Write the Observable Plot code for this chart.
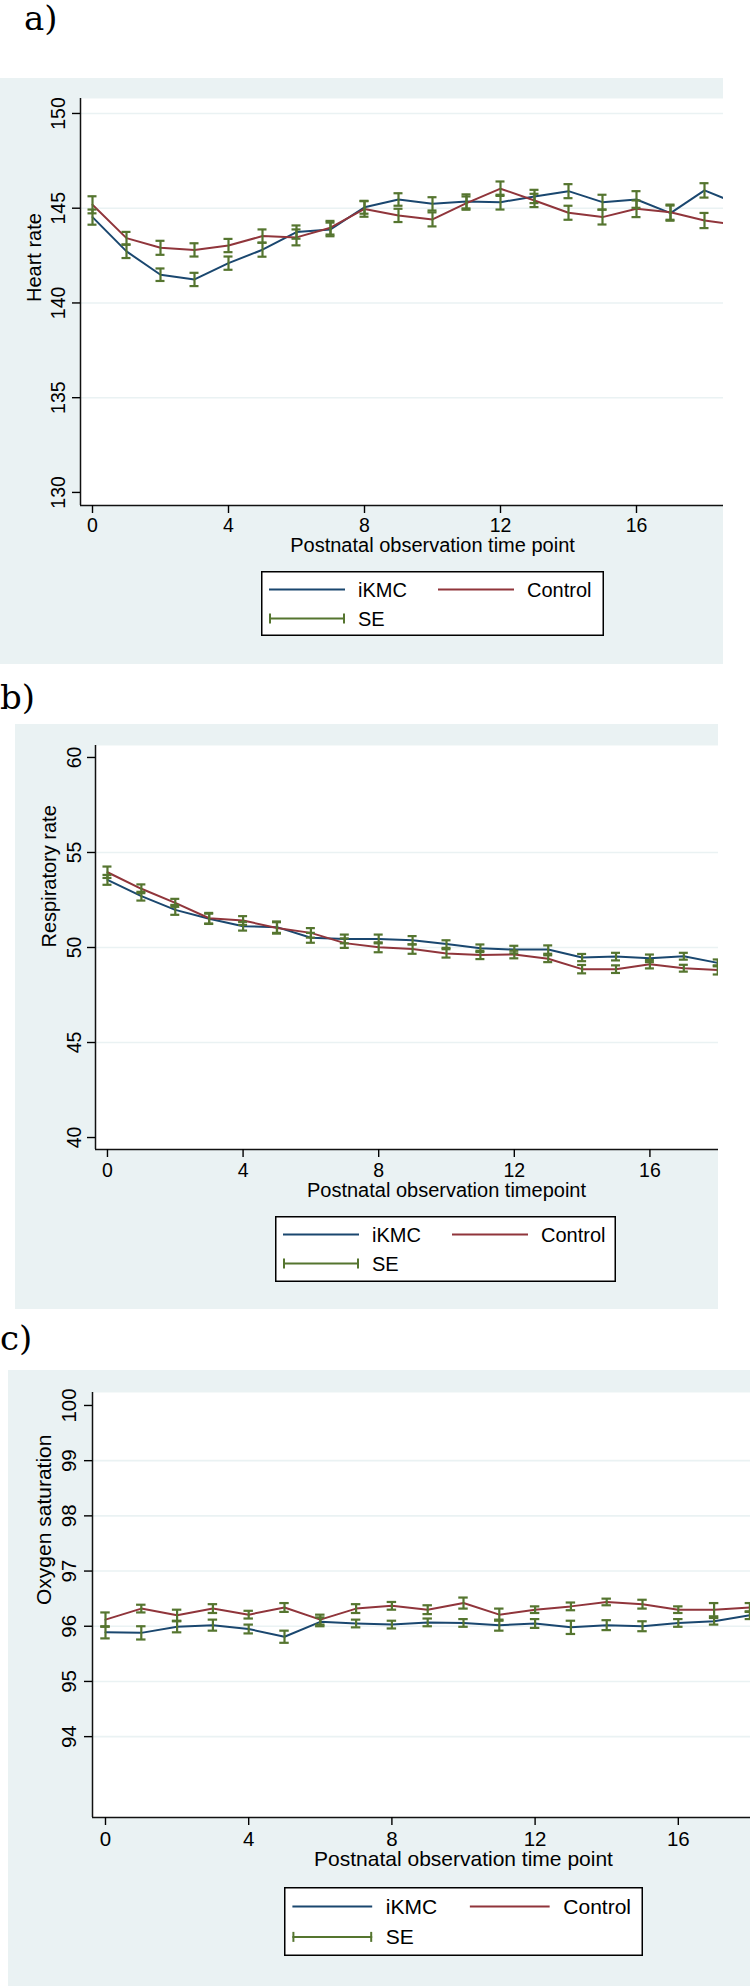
<!DOCTYPE html>
<html>
<head>
<meta charset="utf-8">
<script src="https://cdn.jsdelivr.net/npm/d3@7"></script>
<script src="https://cdn.jsdelivr.net/npm/@observablehq/plot@0.6"></script>
<style>
html, body { margin: 0; padding: 0; background: #fff; }
body { position: relative; width: 750px; height: 1986px; overflow: hidden; font-family: "Liberation Sans", Arial, sans-serif; }
.panel { position: absolute; background: #eaf2f3; overflow: hidden; }
.panel svg.plot-svg { position: absolute; left: 0; top: 0; }
.tag { position: absolute; font-family: "DejaVu Serif", serif; font-size: 34px; line-height: 36px; color: #000; white-space: nowrap; }
.legend { position: absolute; }
</style>
</head>
<body>
<div id="root"></div>
<script>
// ---------- data ----------
const groups = ["iKMC", "Control"];
const groupColors = ["#1a476f", "#90353b"];
const seColor = "#55752f";
const legendLabels = ["iKMC", "Control", "SE"];
const xTickValues = [0, 4, 8, 12, 16];

// a) Heart rate
const hrTime = [0, 1, 2, 3, 4, 5, 6, 7, 8, 9, 10, 11, 12, 13, 14, 15, 16, 17, 18, 19];
const hrIKMC = [144.53, 142.72, 141.49, 141.24, 142.10, 142.81, 143.74, 143.88, 145.05, 145.46, 145.23, 145.36, 145.32, 145.62, 145.90, 145.32, 145.46, 144.74, 145.94, 145.21];
const hrControl = [145.18, 143.42, 142.91, 142.80, 143.03, 143.53, 143.46, 143.97, 144.96, 144.62, 144.41, 145.27, 146.03, 145.41, 144.76, 144.53, 144.97, 144.79, 144.35, 144.10];
const hrSEiKMC = [0.40, 0.35, 0.33, 0.35, 0.35, 0.37, 0.35, 0.36, 0.34, 0.33, 0.35, 0.37, 0.39, 0.35, 0.37, 0.39, 0.44, 0.40, 0.38, 0.40];
const hrSEControl = [0.45, 0.33, 0.37, 0.35, 0.35, 0.35, 0.42, 0.36, 0.41, 0.35, 0.37, 0.35, 0.38, 0.35, 0.37, 0.39, 0.44, 0.40, 0.40, 0.40];
const hrTicks = [130, 135, 140, 145, 150];
const hrGrid = [135, 140, 145, 150];

// b) Respiratory rate
const rrTime = [0, 1, 2, 3, 4, 5, 6, 7, 8, 9, 10, 11, 12, 13, 14, 15, 16, 17, 18];
const rrIKMC = [53.56, 52.70, 51.98, 51.51, 51.12, 51.07, 50.51, 50.45, 50.45, 50.38, 50.18, 49.96, 49.89, 49.89, 49.47, 49.52, 49.43, 49.54, 49.19];
const rrControl = [53.96, 53.09, 52.35, 51.54, 51.42, 51.03, 50.77, 50.23, 50.01, 49.92, 49.69, 49.61, 49.63, 49.41, 48.86, 48.86, 49.12, 48.91, 48.82];
const rrSEiKMC = [0.26, 0.23, 0.26, 0.27, 0.23, 0.30, 0.26, 0.23, 0.23, 0.22, 0.20, 0.20, 0.20, 0.22, 0.19, 0.20, 0.20, 0.18, 0.18];
const rrSEControl = [0.30, 0.23, 0.21, 0.28, 0.23, 0.30, 0.25, 0.25, 0.26, 0.25, 0.22, 0.22, 0.20, 0.18, 0.22, 0.20, 0.22, 0.18, 0.24];
const rrTicks = [40, 45, 50, 55, 60];
const rrGrid = [45, 50, 55];

// c) Oxygen saturation
const spTime = [0, 1, 2, 3, 4, 5, 6, 7, 8, 9, 10, 11, 12, 13, 14, 15, 16, 17, 18];
const spIKMC = [95.89, 95.88, 95.99, 96.02, 95.95, 95.81, 96.08, 96.05, 96.03, 96.07, 96.06, 96.02, 96.05, 95.98, 96.02, 96.00, 96.06, 96.09, 96.20];
const spControl = [96.12, 96.32, 96.20, 96.32, 96.21, 96.34, 96.12, 96.32, 96.37, 96.30, 96.42, 96.21, 96.30, 96.36, 96.44, 96.40, 96.30, 96.30, 96.34];
const spSEiKMC = [0.11, 0.12, 0.10, 0.10, 0.08, 0.11, 0.08, 0.07, 0.07, 0.07, 0.07, 0.10, 0.08, 0.12, 0.09, 0.09, 0.07, 0.06, 0.07];
const spSEControl = [0.13, 0.07, 0.10, 0.08, 0.07, 0.08, 0.09, 0.08, 0.07, 0.08, 0.10, 0.11, 0.06, 0.07, 0.06, 0.08, 0.06, 0.12, 0.08];
const spTicks = [94, 95, 96, 97, 98, 99, 100];
const spGrid = [94, 95, 96, 97, 98, 99];

// ---------- layout ----------
const panels = [
  {
    tag: "a)", tagLeft: 24, tagTop: 0,
    box: {left: 0, top: 78, width: 723, height: 586},
    svgW: 800, svgH: 490, mL: 80, mR: 16, mT: 20, mB: 63,
    xDomain: [-0.353, 20.353], yDomain: [129.31, 150.79],
    yTicks: hrTicks, grid: hrGrid,
    yLabel: "Heart rate", xLabel: "Postnatal observation time point",
    time: hrTime, series: [hrIKMC, hrControl], se: [hrSEiKMC, hrSEControl],
    s: 1, tickPad: 8, xTickPad: 5, yLabDx: -40, xLabDy: 46.5,
    legend: {left: 261, top: 493, width: 343, height: 65}
  },
  {
    tag: "b)", tagLeft: 0, tagTop: 679,
    box: {left: 15, top: 724, width: 703, height: 585},
    svgW: 800, svgH: 490, mL: 80, mR: 18, mT: 21, mB: 65,
    xDomain: [-0.353, 20.353], yDomain: [39.37, 60.63],
    yTicks: rrTicks, grid: rrGrid,
    yLabel: "Respiratory rate", xLabel: "Postnatal observation timepoint",
    time: rrTime, series: [rrIKMC, rrControl], se: [rrSEiKMC, rrSEControl],
    s: 1, tickPad: 7, xTickPad: 6, yLabDx: -40, xLabDy: 47.5,
    legend: {left: 260, top: 492, width: 341, height: 66}
  },
  {
    tag: "c)", tagLeft: 0, tagTop: 1320,
    box: {left: 8, top: 1370, width: 742, height: 616},
    svgW: 850, svgH: 520, mL: 84, mR: 24, mT: 22, mB: 73,
    xDomain: [-0.363, 20.363], yDomain: [92.535, 100.235],
    yTicks: spTicks, grid: spGrid,
    yLabel: "Oxygen saturation", xLabel: "Postnatal observation time point",
    time: spTime, series: [spIKMC, spControl], se: [spSEiKMC, spSEControl],
    s: 1.05, tickPad: 9, xTickPad: 6, yLabDx: -42, xLabDy: 48.5,
    legend: {left: 276, top: 517, width: 359, height: 69}
  }
];

const root = document.getElementById("root");

function drawLegend(container, L, s) {
  const svg = d3.select(container).append("svg")
    .attr("class", "legend")
    .attr("width", L.width).attr("height", L.height)
    .style("left", L.left + "px").style("top", L.top + "px");
  svg.append("rect").attr("x", 0.75).attr("y", 0.75)
    .attr("width", L.width - 1.5).attr("height", L.height - 1.5)
    .attr("fill", "#fff").attr("stroke", "#000").attr("stroke-width", 1.5);
  const row1 = 18.5 * s, row2 = 47.5 * s;
  const items = [
    {label: legendLabels[0], color: groupColors[0], x: 8 * s, y: row1, caps: false},
    {label: legendLabels[1], color: groupColors[1], x: 177 * s, y: row1, caps: false},
    {label: legendLabels[2], color: seColor, x: 8 * s, y: row2, caps: true}
  ];
  const sw = 76 * s;
  for (const it of items) {
    svg.append("line").attr("x1", it.x).attr("x2", it.x + sw)
      .attr("y1", it.y).attr("y2", it.y)
      .attr("stroke", it.color).attr("stroke-width", 2);
    if (it.caps) {
      for (const cx of [it.x + 1, it.x + sw - 1]) {
        svg.append("line").attr("x1", cx).attr("x2", cx)
          .attr("y1", it.y - 5).attr("y2", it.y + 5)
          .attr("stroke", it.color).attr("stroke-width", 2);
      }
    }
    svg.append("text").attr("x", it.x + sw + 13 * s).attr("y", it.y)
      .attr("dy", "0.35em")
      .attr("font-family", '"Liberation Sans", Arial, sans-serif')
      .attr("font-size", (20 * s) + "px").attr("fill", "#000")
      .text(it.label);
  }
}

for (const P of panels) {
  const tag = document.createElement("div");
  tag.className = "tag";
  tag.style.left = P.tagLeft + "px";
  tag.style.top = P.tagTop + "px";
  tag.textContent = P.tag;
  root.appendChild(tag);

  const box = document.createElement("div");
  box.className = "panel";
  box.style.left = P.box.left + "px";
  box.style.top = P.box.top + "px";
  box.style.width = P.box.width + "px";
  box.style.height = P.box.height + "px";
  root.appendChild(box);

  const rows = [];
  groups.forEach((g, gi) => {
    P.time.forEach((t, i) => {
      const v = P.series[gi][i], e = P.se[gi][i];
      rows.push({group: g, t, v, lo: v - e, hi: v + e});
    });
  });

  const fs = 19.5 * P.s, tfs = 20 * P.s;
  const cap = 4.5 * P.s;
  const svg = Plot.plot({
    width: P.svgW, height: P.svgH,
    marginLeft: P.mL, marginRight: P.mR, marginTop: P.mT, marginBottom: P.mB,
    x: {domain: P.xDomain, label: null},
    y: {domain: P.yDomain, label: null},
    color: {domain: groups, range: groupColors},
    style: {
      background: "transparent", color: "#000", maxWidth: "none", overflow: "visible",
      fontFamily: '"Liberation Sans", Arial, sans-serif', fontSize: fs + "px"
    },
    marks: [
      Plot.frame({fill: "#fff", stroke: null}),
      Plot.gridY(P.grid, {stroke: "#eaf2f3", strokeOpacity: 1, strokeWidth: 1.6}),
      Plot.ruleX([P.xDomain[0]], {stroke: "#111", strokeWidth: 1.5}),
      Plot.ruleY([P.yDomain[0]], {stroke: "#111", strokeWidth: 1.5}),
      Plot.axisY(P.yTicks, {tickSize: 8, tickPadding: P.tickPad, tickRotate: -90, tickFormat: d => String(d), label: null, strokeWidth: 1.4}),
      Plot.axisX(xTickValues, {tickSize: 8, tickPadding: P.xTickPad, tickFormat: d => String(d), label: null, strokeWidth: 1.4}),
      Plot.line(rows, {x: "t", y: "v", z: "group", stroke: "group", strokeWidth: 2}),
      Plot.ruleX(rows, {x: "t", y1: "lo", y2: "hi", stroke: seColor, strokeWidth: 2.2}),
      Plot.ruleY(rows, {y: "lo", x1: "t", x2: "t", insetLeft: -cap, insetRight: -cap, stroke: seColor, strokeWidth: 2.2}),
      Plot.ruleY(rows, {y: "hi", x1: "t", x2: "t", insetLeft: -cap, insetRight: -cap, stroke: seColor, strokeWidth: 2.2}),
      Plot.text([P.yLabel], {text: d => d, frameAnchor: "left", rotate: -90, lineAnchor: "bottom", dx: P.yLabDx, fontSize: tfs, fill: "#000"}),
      Plot.text([P.xLabel], {text: d => d, frameAnchor: "bottom", dy: P.xLabDy, fontSize: tfs, fill: "#000"})
    ]
  });
  svg.classList.add("plot-svg");
  box.appendChild(svg);
  drawLegend(box, P.legend, P.s);
}
</script>
</body>
</html>
